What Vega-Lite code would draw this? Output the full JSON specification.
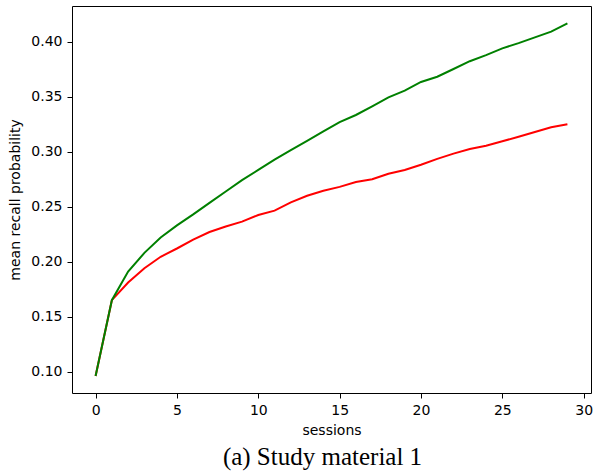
{
  "$schema": "https://vega.github.io/schema/vega-lite/v6.json",
  "width": 519,
  "height": 387,
  "autosize": {"type": "none"},
  "padding": {"left": 72, "top": 6, "right": 3, "bottom": 82},
  "background": "white",
  "config": {
    "view": {"stroke": "black", "strokeWidth": 1},
    "axis": {"grid": false, "domain": false, "tickColor": "black", "tickSize": 5, "tickWidth": 1,
      "labelFont": "DejaVu Sans", "labelFontSize": 14, "labelColor": "black",
      "titleFont": "DejaVu Sans", "titleFontSize": 14, "titleFontWeight": "normal", "titleColor": "black"}
  },
  "title": {"text": "(a) Study material 1", "orient": "bottom", "anchor": "middle", "font": "Liberation Serif",
    "fontSize": 25, "fontWeight": "normal", "color": "black", "offset": 8, "dx": -9},
  "data": {"values": [
    {"s":0,"k":"red","p":0.0961},{"s":1,"k":"red","p":0.165},{"s":2,"k":"red","p":0.181},{"s":3,"k":"red","p":0.194},
    {"s":4,"k":"red","p":0.2045},{"s":5,"k":"red","p":0.212},{"s":6,"k":"red","p":0.220},{"s":7,"k":"red","p":0.227},
    {"s":8,"k":"red","p":0.232},{"s":9,"k":"red","p":0.2364},{"s":10,"k":"red","p":0.2425},{"s":11,"k":"red","p":0.2464},
    {"s":12,"k":"red","p":0.254},{"s":13,"k":"red","p":0.2600},{"s":14,"k":"red","p":0.2645},{"s":15,"k":"red","p":0.268},
    {"s":16,"k":"red","p":0.2725},{"s":17,"k":"red","p":0.2749},{"s":18,"k":"red","p":0.2800},{"s":19,"k":"red","p":0.2834},
    {"s":20,"k":"red","p":0.2882},{"s":21,"k":"red","p":0.2935},{"s":22,"k":"red","p":0.2983},{"s":23,"k":"red","p":0.3025},
    {"s":24,"k":"red","p":0.3055},{"s":25,"k":"red","p":0.3095},{"s":26,"k":"red","p":0.3136},{"s":27,"k":"red","p":0.318},
    {"s":28,"k":"red","p":0.3222},{"s":29,"k":"red","p":0.325},
    {"s":0,"k":"green","p":0.0961},{"s":1,"k":"green","p":0.165},{"s":2,"k":"green","p":0.191},{"s":3,"k":"green","p":0.208},
    {"s":4,"k":"green","p":0.222},{"s":5,"k":"green","p":0.2330},{"s":6,"k":"green","p":0.243},{"s":7,"k":"green","p":0.2535},
    {"s":8,"k":"green","p":0.2638},{"s":9,"k":"green","p":0.2742},{"s":10,"k":"green","p":0.2834},{"s":11,"k":"green","p":0.2928},
    {"s":12,"k":"green","p":0.3015},{"s":13,"k":"green","p":0.3098},{"s":14,"k":"green","p":0.3185},{"s":15,"k":"green","p":0.3270},
    {"s":16,"k":"green","p":0.3334},{"s":17,"k":"green","p":0.3413},{"s":18,"k":"green","p":0.3495},{"s":19,"k":"green","p":0.3555},
    {"s":20,"k":"green","p":0.3634},{"s":21,"k":"green","p":0.3682},{"s":22,"k":"green","p":0.3752},{"s":23,"k":"green","p":0.3823},
    {"s":24,"k":"green","p":0.3878},{"s":25,"k":"green","p":0.3940},{"s":26,"k":"green","p":0.3987},{"s":27,"k":"green","p":0.4040},
    {"s":28,"k":"green","p":0.4092},{"s":29,"k":"green","p":0.4167}
  ]},
  "mark": {"type": "line", "strokeWidth": 2, "interpolate": "linear"},
  "encoding": {
    "x": {"field": "s", "type": "quantitative", "title": "sessions",
      "scale": {"domain": [-1.45, 30.45], "nice": false, "zero": false},
      "axis": {"values": [0,5,10,15,20,25,30], "labelPadding": 5, "titlePadding": 6, "labelFlush": false}},
    "y": {"field": "p", "type": "quantitative", "title": "mean recall probability",
      "scale": {"domain": [0.0806, 0.4325], "nice": false, "zero": false},
      "axis": {"values": [0.10,0.15,0.20,0.25,0.30,0.35,0.40], "format": ".2f", "labelPadding": 5, "titlePadding": 8, "labelFlush": false}},
    "color": {"field": "k", "type": "nominal", "scale": {"domain": ["red","green"], "range": ["#ff0000","#008000"]}, "legend": null},
    "order": {"field": "s"}
  }
}
